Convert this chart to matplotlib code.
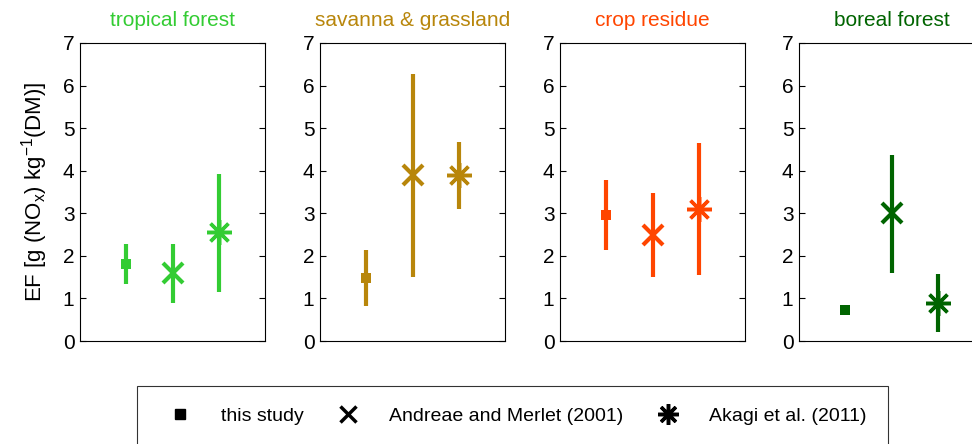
import matplotlib.pyplot as plt
from matplotlib.lines import Line2D

plt.rcParams["font.family"] = ["Liberation Sans", "DejaVu Sans"]

BIOMES = ["tropical forest", "savanna & grassland", "crop residue", "boreal forest"]
COLORS = ["#33cc33", "#b8860b", "#ff4500", "#006400"]
SOURCES = ["this study", "Andreae and Merlet (2001)", "Akagi et al. (2011)"]

# central values per biome: [this study, Andreae & Merlet, Akagi]
EF_MEAN = [
    [1.82, 1.60, 2.55],
    [1.48, 3.90, 3.90],
    [2.96, 2.50, 3.10],
    [0.72, 3.00, 0.90],
]
# error bar ranges (low, high); None = no error bar
EF_LOW = [
    [1.35, 0.90, 1.15],
    [0.82, 1.50, 3.10],
    [2.14, 1.50, 1.55],
    [None, 1.60, 0.22],
]
EF_HIGH = [
    [2.27, 2.28, 3.92],
    [2.14, 6.28, 4.68],
    [3.78, 3.48, 4.66],
    [None, 4.38, 1.57],
]

MARKERS = [
    dict(marker="s", markersize=7, mew=0),
    dict(marker="x", markersize=14, mew=3),
    dict(marker=(8, 2, 0), markersize=18, mew=2.5),
]

fig = plt.figure(figsize=(9.72, 4.44), dpi=100)

lefts = [80, 320, 560, 799]
for i, biome in enumerate(BIOMES):
    ax = fig.add_axes([lefts[i] / 972, 103 / 444, 185 / 972, 298 / 444])
    color = COLORS[i]
    for j in range(3):
        x = j + 1
        y = EF_MEAN[i][j]
        lo = EF_LOW[i][j]
        hi = EF_HIGH[i][j]
        if lo is not None:
            ax.plot([x, x], [lo, hi], color=color, lw=3, solid_capstyle="butt")
        ax.plot(x, y, linestyle="none", color=color, mec=color, **MARKERS[j])
    ax.set_xlim(0, 4)
    ax.set_ylim(0, 7)
    ax.set_xticks([])
    ax.set_yticks(range(8))
    ax.tick_params(axis="y", direction="in", right=True, length=4,
                   labelsize=15, width=0.8, pad=4)
    for sp in ax.spines.values():
        sp.set_linewidth(0.8)
    ax.set_title(biome, color=color, fontsize=15, pad=12)
    if i == 0:
        ax.set_ylabel("EF [g (NO$_\\mathregular{x}$) kg$^\\mathregular{-1}$(DM)]",
                      fontsize=16, labelpad=9)

handles = [
    Line2D([], [], linestyle="none", color="black", marker="s", markersize=7),
    Line2D([], [], linestyle="none", color="black", marker="x", markersize=12, mew=2.5),
    Line2D([], [], linestyle="none", color="black", marker=(8, 2, 0), markersize=15, mew=2.5),
]
leg = fig.legend(handles, SOURCES, loc="center", bbox_to_anchor=(0.527, 0.062),
                 ncol=3, frameon=True, fancybox=False,
                 prop={"size": 14},
                 edgecolor="black", borderpad=1.1, handletextpad=1.0,
                 columnspacing=1.2, handlelength=2.2)
leg.get_frame().set_linewidth(0.8)

fig.savefig("out.png", dpi=100)
